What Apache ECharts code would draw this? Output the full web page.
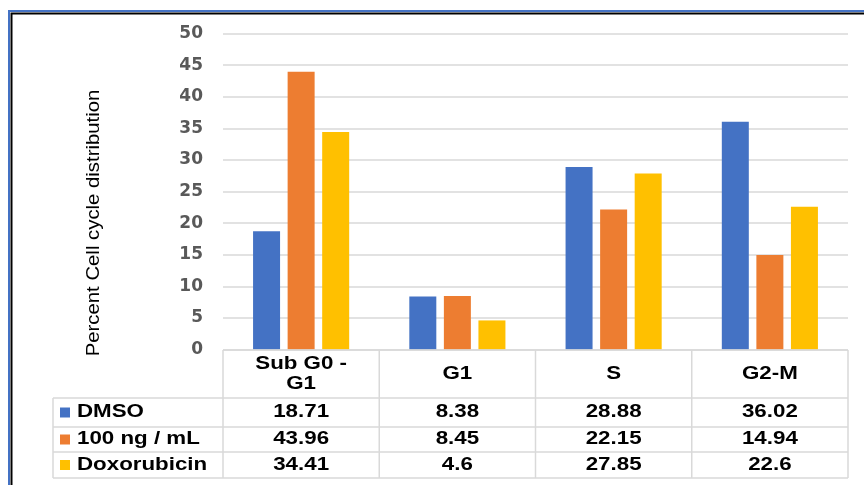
<!DOCTYPE html>
<html>
<head>
<meta charset="utf-8">
<script src="https://cdn.jsdelivr.net/npm/echarts@6/dist/echarts.min.js"></script>
<style>
  html, body { margin: 0; padding: 0; background: #fff; }
  #main { width: 864px; height: 485px; }
</style>
</head>
<body>
<div id="main"></div>
<script>
var categories = ["Sub G0 -\nG1", "G1", "S", "G2-M"];
var seriesNames = ["DMSO", "100 ng / mL", "Doxorubicin"];
var dmso = [18.71, 8.38, 28.88, 36.02];
var ng100 = [43.96, 8.45, 22.15, 14.94];
var doxo = [34.41, 4.6, 27.85, 22.6];
var colors = ["#4472C4", "#ED7D31", "#FFC000"];

var chartDom = document.getElementById("main");
var myChart = echarts.init(chartDom);

// grid box (px)
var gLeft = 223, gRight = 848, gTop = 33.5, gBottom = 349.5;
var colW = (gRight - gLeft) / categories.length;
// table row edges
var rowY = [350, 398, 427, 452, 478];
var legendX = 53;
var lineColor = "#d9d9d9";
var tblFont = "bold 18px 'Liberation Sans', Arial, sans-serif";
var stretch = 1.24; // table text is wide in the original

var allData = [dmso, ng100, doxo];
var graphics = [];

function hline(x1, x2, y) {
  graphics.push({ type: "line", shape: { x1: x1, y1: y, x2: x2, y2: y }, style: { stroke: lineColor, lineWidth: 1.5 }, z: 5 });
}
function vline(x, y1, y2) {
  graphics.push({ type: "line", shape: { x1: x, y1: y1, x2: x, y2: y2 }, style: { stroke: lineColor, lineWidth: 1.5 }, z: 5 });
}
function cellText(txt, x, y, align) {
  graphics.push({
    type: "text", x: x, y: y, scaleX: stretch,
    style: { text: txt, fill: "#000", font: tblFont, align: align, verticalAlign: "middle", lineHeight: 20 },
    z: 6
  });
}

// table grid
hline(gLeft, gRight, rowY[0]);
for (var i = 1; i < rowY.length; i++) hline(legendX, gRight, rowY[i]);
vline(legendX, rowY[1], rowY[4]);
for (var c = 0; c <= categories.length; c++) vline(gLeft + c * colW, rowY[0], rowY[4]);

// header texts
categories.forEach(function (name, c) {
  cellText(name, gLeft + (c + 0.5) * colW, (rowY[0] + rowY[1]) / 2, "center");
});

// rows
seriesNames.forEach(function (name, r) {
  var cy = (rowY[r + 1] + rowY[r + 2]) / 2;
  graphics.push({ type: "rect", shape: { x: 60, y: cy - 5, width: 10, height: 10 }, style: { fill: colors[r] }, z: 6 });
  cellText(name, 77, cy, "left");
  allData[r].forEach(function (v, c) {
    cellText(String(v), gLeft + (c + 0.5) * colW, cy, "center");
  });
});

// y axis title
graphics.push({
  type: "text", x: 94, y: 223, rotation: Math.PI / 2, scaleX: 1.07,
  style: { text: "Percent Cell cycle distribution", fill: "#000", font: "19px 'Liberation Sans', Arial, sans-serif", align: "center", verticalAlign: "middle" },
  z: 6
});

// frame
graphics.push({ type: "polyline", shape: { points: [[9, 485], [9, 11], [864, 11]] }, style: { stroke: "#4472C4", lineWidth: 2, fill: null }, z: 7 });
graphics.push({ type: "polyline", shape: { points: [[11.5, 485], [11.5, 13.5], [864, 13.5]] }, style: { stroke: "#000", lineWidth: 2, fill: null }, z: 7 });

var option = {
  backgroundColor: "#fff",
  animation: false,
  grid: { left: gLeft, right: 864 - gRight, top: gTop, bottom: 485 - gBottom },
  xAxis: {
    type: "category",
    data: categories,
    axisLine: { show: false },
    axisTick: { show: false },
    axisLabel: { show: false }
  },
  yAxis: {
    type: "value",
    min: 0,
    max: 50,
    interval: 5,
    axisLine: { show: false },
    axisTick: { show: false },
    axisLabel: { color: "#595959", fontSize: 17, fontWeight: "bold", fontFamily: "'DejaVu Sans', sans-serif", margin: 20 },
    splitLine: { lineStyle: { color: lineColor, width: 1.5 } }
  },
  series: allData.map(function (d, i) {
    return {
      name: seriesNames[i],
      type: "bar",
      barWidth: 27,
      barGap: "28%",
      itemStyle: { color: colors[i] },
      data: d
    };
  }),
  graphic: graphics
};

option && myChart.setOption(option);
</script>
</body>
</html>
